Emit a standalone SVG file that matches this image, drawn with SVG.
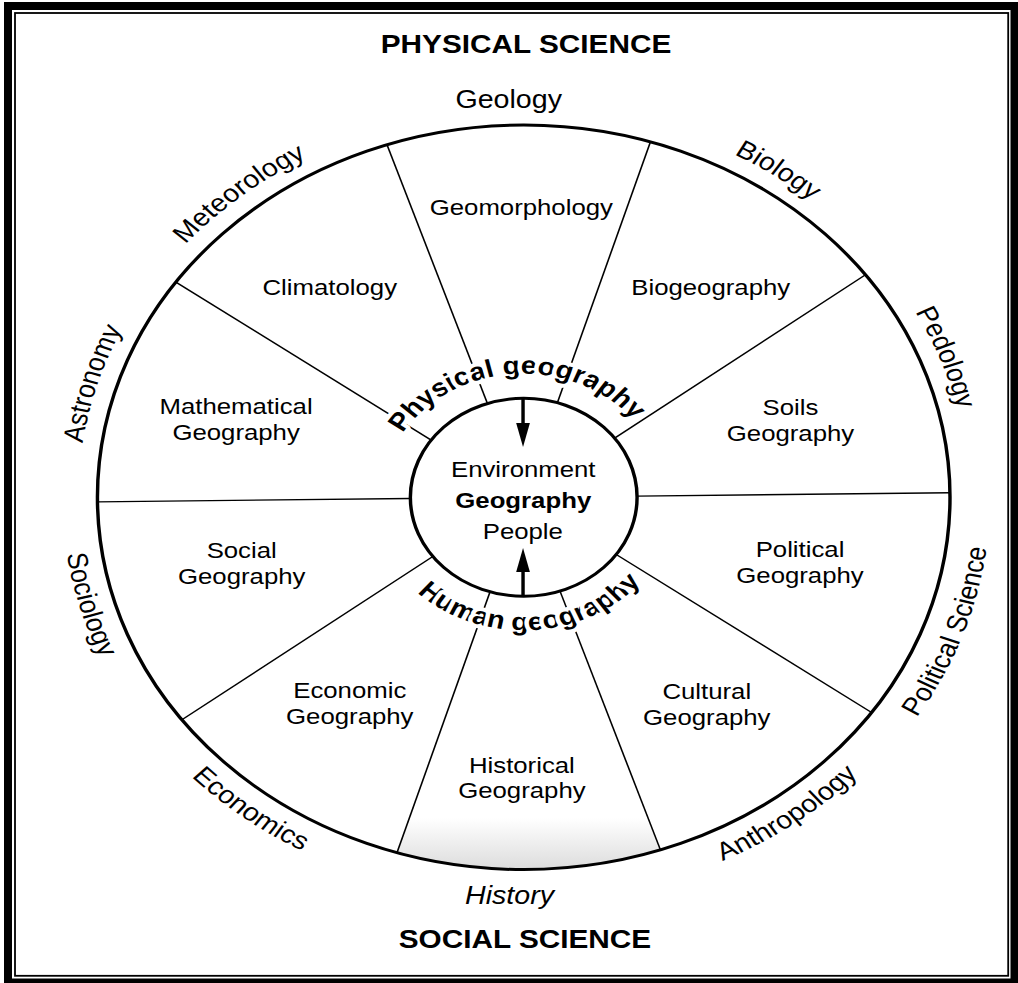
<svg xmlns="http://www.w3.org/2000/svg" width="1018" height="983" viewBox="0 0 1018 983">
<style>
.t{font-family:"Liberation Sans",Arial,Helvetica,sans-serif;fill:#000}
.lbl{font-size:22.5px;text-anchor:middle}
.disc{font-size:25px}
.hdr{font-size:26px;font-weight:bold;text-anchor:middle}
.arcb{font-size:25px;font-weight:bold;stroke:#fff;stroke-width:8px;stroke-linejoin:round;paint-order:stroke}
.spoke{stroke:#000;stroke-width:1.4;fill:none}
.ring{fill:none;stroke:#000;stroke-width:3}
.arw{stroke:#000;stroke-width:3;fill:none}
</style>
<defs>
<linearGradient id="shade" gradientUnits="userSpaceOnUse" x1="0" y1="818" x2="0" y2="870">
<stop offset="0" stop-color="#ffffff"/>
<stop offset="1" stop-color="#dcdcdc"/>
</linearGradient>
<marker id="ah" viewBox="0 0 24 12" refX="0" refY="6" markerWidth="24" markerHeight="12.5" markerUnits="userSpaceOnUse" orient="auto">
<path d="M0,0 L24,6 L0,12 Z" fill="#000"/>
</marker>
<path id="pMet" d="M93.5,359.8 A389,389 0 0 1 394.5,113.4"/>
<path id="pAst" d="M78.7,586.1 A389,389 0 0 1 191.1,213.7"/>
<path id="pBio" d="M485.9,109.3 A389,389 0 0 1 807.6,328"/>
<path id="pPed" d="M703.2,195.8 A389,389 0 0 1 841.4,559.5"/>
<path id="pSoc" d="M66.7,398.4 A403,403 0 0 0 176.4,786.2"/>
<path id="pEco" d="M85.4,652.2 A403,403 0 0 0 405.5,897"/>
<path id="pAnt" d="M499.5,898.1 A403,403 0 0 0 825.5,661.2"/>
<path id="pPol" d="M720.3,809.2 A407,407 0 0 0 858.2,425.9"/>
<path id="pPhy" d="M338.4,464.4 A123,123 0 0 1 570.6,449.3"/>
<path id="pHum" d="M339.9,559.7 A133,133 0 0 0 580.7,547.1"/>
</defs>
<rect width="1018" height="983" fill="#fff"/>
<g id="frame">
<path d="M4,2 H1018 V983 H4 Z M12,10 V978.5 H1010.5 V10 Z" fill="#000" fill-rule="evenodd"/>
<rect x="15" y="13" width="993.2" height="962.8" fill="none" stroke="#000" stroke-width="1.8"/>
</g>
<g id="diagram" transform="matrix(1.145,0,0,1,0,0)">
<g id="outer-circle">
<path d="M457.4,497.3 L346.7,852.8 A372.3,372.3 0 0 0 576.8,849.9 Z" fill="url(#shade)"/>
<circle cx="457.4" cy="497.3" r="372.3" class="ring"/>
</g>
<g id="connectors">
<line class="spoke" x1="556.4" y1="496.1" x2="829.7" y2="492.75"/>
<line class="spoke" x1="538.2" y1="554.5" x2="761.2" y2="712.5"/>
<line class="spoke" x1="489.1" y1="591.1" x2="576.8" y2="849.9"/>
<line class="spoke" x1="428" y1="591.8" x2="346.7" y2="852.8"/>
<line class="spoke" x1="378" y1="556.5" x2="158.9" y2="719.8"/>
<line class="spoke" x1="358.4" y1="498.5" x2="85.1" y2="501.85"/>
<line class="spoke" x1="376.6" y1="440.1" x2="153.6" y2="282.1"/>
<line class="spoke" x1="425.7" y1="403.5" x2="338" y2="144.7"/>
<line class="spoke" x1="486.8" y1="402.8" x2="568.1" y2="141.8"/>
<line class="spoke" x1="536.8" y1="438.1" x2="755.9" y2="274.8"/>
<line class="arw" x1="456.8" y1="399" x2="456.8" y2="423" marker-end="url(#ah)"/>
<line class="arw" x1="456.8" y1="595.5" x2="456.8" y2="572" marker-end="url(#ah)"/>
</g>
<g id="center">
<circle cx="457.4" cy="497.3" r="99" class="ring" fill="none"/>
<text class="t lbl" x="457" y="477.5">Environment</text>
<text class="t lbl" x="457" y="508.5" font-weight="bold">Geography</text>
<text class="t lbl" x="456.6" y="539.5">People</text>
</g>
<g id="physical-geography"><text class="t arcb"><textPath href="#pPhy" startOffset="50%" text-anchor="middle">Physical geography</textPath></text></g>
<g id="human-geography"><text class="t arcb"><textPath href="#pHum" startOffset="50%" text-anchor="middle">Human geography</textPath></text></g>
<g id="geomorphology"><text class="t lbl" x="455.3" y="215">Geomorphology</text></g>
<g id="biogeography"><text class="t lbl" x="620.7" y="295">Biogeography</text></g>
<g id="climatology"><text class="t lbl" x="288" y="295">Climatology</text></g>
<g id="mathematical-geography"><text class="t lbl" x="206.2" y="414.3">Mathematical</text><text class="t lbl" x="206.2" y="440">Geography</text></g>
<g id="soils-geography"><text class="t lbl" x="690.4" y="415">Soils</text><text class="t lbl" x="690.4" y="441">Geography</text></g>
<g id="social-geography"><text class="t lbl" x="211.1" y="557.7">Social</text><text class="t lbl" x="211.1" y="584">Geography</text></g>
<g id="political-geography"><text class="t lbl" x="698.7" y="557.3">Political</text><text class="t lbl" x="698.7" y="583.3">Geography</text></g>
<g id="economic-geography"><text class="t lbl" x="305.5" y="698.3">Economic</text><text class="t lbl" x="305.5" y="724">Geography</text></g>
<g id="historical-geography"><text class="t lbl" x="455.8" y="773">Historical</text><text class="t lbl" x="455.8" y="798">Geography</text></g>
<g id="cultural-geography"><text class="t lbl" x="617.3" y="699.3">Cultural</text><text class="t lbl" x="617.3" y="725">Geography</text></g>
<g id="geology"><text class="t disc" x="444.3" y="108.3" text-anchor="middle">Geology</text></g>
<g id="history"><text class="t disc" x="445" y="904" text-anchor="middle" font-style="italic">History</text></g>
<g id="meteorology"><text class="t disc"><textPath href="#pMet" startOffset="50%" text-anchor="middle">Meteorology</textPath></text></g>
<g id="astronomy"><text class="t disc"><textPath href="#pAst" startOffset="50%" text-anchor="middle">Astronomy</textPath></text></g>
<g id="biology"><text class="t disc"><textPath href="#pBio" startOffset="50%" text-anchor="middle">Biology</textPath></text></g>
<g id="pedology"><text class="t disc"><textPath href="#pPed" startOffset="50%" text-anchor="middle">Pedology</textPath></text></g>
<g id="sociology"><text class="t disc"><textPath href="#pSoc" startOffset="50%" text-anchor="middle">Sociology</textPath></text></g>
<g id="economics"><text class="t disc"><textPath href="#pEco" startOffset="50%" text-anchor="middle">Economics</textPath></text></g>
<g id="anthropology"><text class="t disc"><textPath href="#pAnt" startOffset="50%" text-anchor="middle">Anthropology</textPath></text></g>
<g id="political-science"><text class="t disc"><textPath href="#pPol" startOffset="50%" text-anchor="middle">Political Science</textPath></text></g>
<g id="physical-science"><text class="t hdr" x="459.4" y="53">PHYSICAL SCIENCE</text></g>
<g id="social-science"><text class="t hdr" x="458.5" y="948">SOCIAL SCIENCE</text></g>
</g>
</svg>
